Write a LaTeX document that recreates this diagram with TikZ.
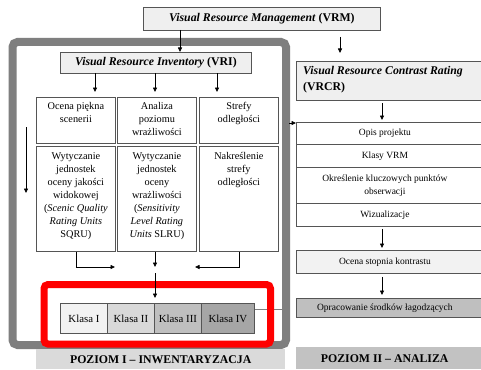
\documentclass[tikz,border=0pt]{standalone}
\usepackage{fontspec}
\setmainfont{Liberation Serif}
\usetikzlibrary{arrows.meta}
\definecolor{framegray}{HTML}{7F7F7F}
\definecolor{edgegray}{HTML}{555555}
\definecolor{paleA}{HTML}{EFEFEF}
\definecolor{paleB}{HTML}{F2F2F2}
\definecolor{klasaB}{HTML}{D9D9D9}
\definecolor{klasaC}{HTML}{BFBFBF}
\definecolor{klasaD}{HTML}{A6A6A6}
\definecolor{bandI}{HTML}{DADADA}
\definecolor{bandII}{HTML}{C2C2C2}
\definecolor{markred}{HTML}{FF0000}
\begin{document}
\begin{tikzpicture}[x=1pt,y=-1pt,
  every node/.style={font=\fontsize{9.5}{13}\selectfont},
  cell/.style={draw=edgegray,line width=0.8pt,inner sep=0pt,anchor=north west},
  celltext/.style={anchor=north,align=center,inner sep=0pt,font=\fontsize{10.3}{13}\selectfont},
  titlefont/.style={font=\fontsize{11.8}{16}\selectfont\bfseries},
  band/.style={fill,inner sep=0pt,anchor=north west,font=\fontsize{11.8}{12}\selectfont\bfseries},
  klasa/.style={cell,minimum height=30pt,font=\fontsize{10.8}{12}\selectfont},
  arr/.style={-{Triangle[length=4.5pt,width=4pt]},line width=0.8pt,black},
  link/.style={line width=0.8pt,black}]
\useasboundingbox (0,0) rectangle (481,369);
\fill[white] (0,0) rectangle (481,369);

% level I frame and its caption band
\draw[line width=8pt,framegray,rounded corners=5pt,fill=white] (12.5,42) rectangle (286,345);
\node[band,fill=bandI,minimum width=249pt,minimum height=20pt] (bandone) at (36,349) {POZIOM I -- INWENTARYZACJA};
\node[band,fill=bandII,minimum width=187pt,minimum height=22pt] (bandtwo) at (296,347) {\hspace*{-10pt}POZIOM II -- ANALIZA};

% top of the hierarchy
\node[cell,fill=paleA,minimum width=237pt,minimum height=23pt,titlefont] (vrm) at (143,7) {\textit{Visual Resource Management} (VRM)};
\node[cell,fill=paleA,minimum width=191pt,minimum height=21pt,titlefont] (vri) at (60,52) {\textit{Visual Resource Inventory} (VRI)};

% inventory columns, upper row
\node[cell,minimum width=79pt,minimum height=46pt] (ca) at (36,97) {};
\node[cell,minimum width=79pt,minimum height=46pt] (cb) at (117,97) {};
\node[cell,minimum width=79pt,minimum height=46pt] (cc) at (199,97) {};
\node[celltext] (tca) at ([yshift=-5.5pt]ca.north) {Ocena piękna\\scenerii};
\node[celltext] (tcb) at ([yshift=-5.5pt]cb.north) {Analiza\\poziomu\\wrażliwości};
\node[celltext] (tcc) at ([yshift=-5.5pt]cc.north) {Strefy\\odległości};

% inventory columns, lower row
\node[cell,minimum width=79pt,minimum height=105pt] (da) at (36,146) {};
\node[cell,minimum width=79pt,minimum height=105pt] (db) at (117,146) {};
\node[cell,minimum width=79pt,minimum height=105pt] (dc) at (199,146) {};
\node[celltext] (tda) at ([yshift=-6.5pt]da.north) {Wytyczanie\\jednostek\\oceny jakości\\widokowej\\(\textit{Scenic Quality}\\\textit{Rating Units}\\SQRU)};
\node[celltext] (tdb) at ([yshift=-6.5pt]db.north) {Wytyczanie\\jednostek\\oceny\\wrażliwości\\(\textit{Sensitivity}\\\textit{Level Rating}\\\textit{Units} SLRU)};
\node[celltext] (tdc) at ([yshift=-6.5pt]dc.north) {Nakreślenie\\strefy\\odległości};

% visual classes
\node[klasa,fill=paleB,minimum width=47pt] (ka) at (60,303) {Klasa I};
\node[klasa,fill=klasaB,minimum width=47pt] (kb) at (107,303) {Klasa II};
\node[klasa,fill=klasaC,minimum width=47pt] (kc) at (154,303) {Klasa III};
\node[klasa,fill=klasaD,minimum width=53pt] (kd) at (201,303) {Klasa IV};
\coordinate (kdout) at (283,309);
\draw[line width=0.8pt,framegray] (kd.east |- kdout) -- (kdout);

% highlight around the classes
\draw[line width=7pt,markred,rounded corners=4pt] (44,284.5) rectangle (270.5,344);

% contrast rating column
\node[cell,fill=paleA,minimum width=187pt,minimum height=39pt] (vrcr) at (296,61) {};
\node[titlefont,anchor=north west,align=left,inner sep=0pt] (tvrcr) at (303,66) {\textit{Visual Resource Contrast Rating}\\(VRCR)};
\node[cell,minimum width=187pt,minimum height=22pt] (opis) at (296,122) {\hspace*{-10pt}Opis projektu};
\node[cell,minimum width=187pt,minimum height=23pt] (klasy) at (296,144) {\hspace*{-10pt}Klasy VRM};
\node[cell,minimum width=187pt,minimum height=36pt,align=center] (punkty) at (296,167) {\hspace*{-10pt}Określenie kluczowych punktów\\\hspace*{-10pt}obserwacji};
\node[cell,minimum width=187pt,minimum height=23pt] (wiz) at (296,203) {\hspace*{-10pt}Wizualizacje};
\node[cell,fill=paleB,minimum width=187pt,minimum height=23pt] (ocena) at (296,250) {\hspace*{-10pt}Ocena stopnia kontrastu};
\node[cell,fill=klasaC,minimum width=187pt,minimum height=19pt] (opr) at (296,298) {\hspace*{-10pt}Opracowanie środków łagodzących};

% connectors
\coordinate (vrmleft) at (180,30);
\coordinate (vrmright) at (340,30);
\draw[arr] (vrmleft) -- (vrmleft |- vri.north);
\draw[arr,shorten <=7pt,shorten >=8pt] (vrmright) -- (vrmright |- vrcr.north);
\foreach \x in {95,155,217}{
  \draw[arr,shorten >=5pt] (\x,73) -- (\x,97);
}
\coordinate (leftdown) at (26,127);
\draw[arr] (leftdown) -- ++(0,66);
\coordinate (joinrow) at (155,267);
\coordinate (classin) at (155,273);
\draw[link] (da.south) -- (da.south |- joinrow) -- ++(20,0);
\draw[arr] (da.south |- joinrow) -- (115,267);
\draw[link] (dc.south) -- (dc.south |- joinrow) -- ++(-20,0);
\draw[arr] (dc.south |- joinrow) -- (195,267);
\draw[arr] (db.south -| joinrow) -- (joinrow);
\draw[arr,shorten >=5pt] (classin) -- (classin |- kb.north);
\coordinate (framein) at (289,123);
\draw[arr] (framein) -- (opis.north west |- framein);
\coordinate (colx) at (382,100);
\draw[arr,shorten <=3pt,shorten >=2pt] (colx) -- (colx |- opis.north);
\draw[arr,shorten <=2pt,shorten >=2pt] (colx |- wiz.south) -- (colx |- ocena.north);
\draw[arr,shorten <=3pt,shorten >=3pt] (colx |- ocena.south) -- (colx |- opr.north);
\end{tikzpicture}
\end{document}
